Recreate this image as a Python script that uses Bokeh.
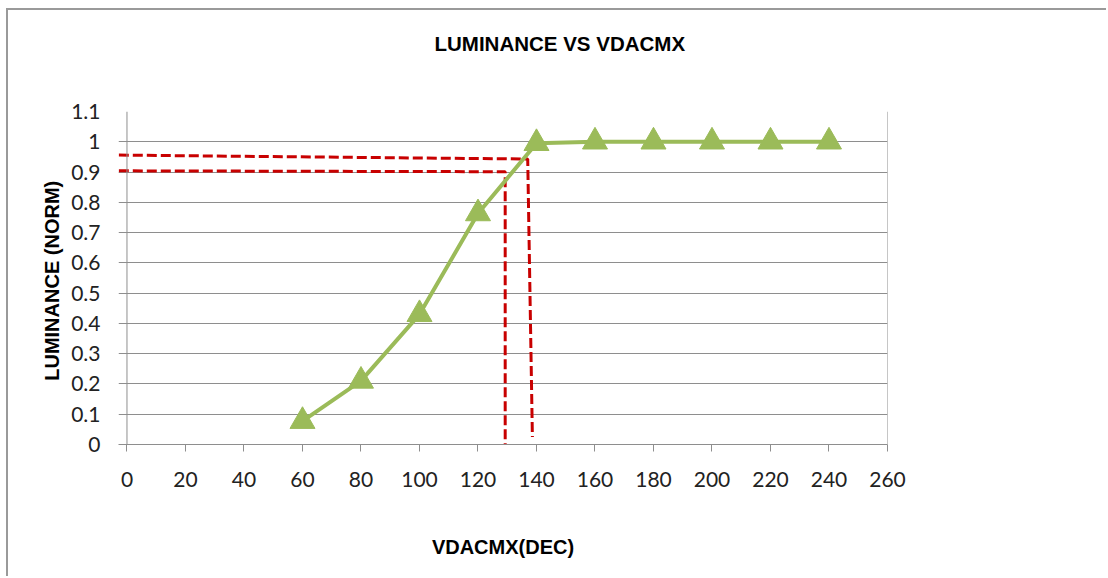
from bokeh.plotting import figure
from bokeh.models import Range1d, FixedTicker, NumeralTickFormatter, Span, Title
from bokeh.embed import file_html
from bokeh.resources import INLINE

# ---- data ----
vdac = [60, 80, 100, 120, 140, 160, 180, 200, 220, 240]
luminance = [0.077, 0.21, 0.43, 0.763, 0.995, 1.0, 1.0, 1.0, 1.0, 1.0]

x_ticks = [0, 20, 40, 60, 80, 100, 120, 140, 160, 180, 200, 220, 240, 260]
y_ticks = [0, 0.1, 0.2, 0.3, 0.4, 0.5, 0.6, 0.7, 0.8, 0.9, 1.0, 1.1]

# red dashed guide lines (hand drawn on the original)
guide_upper_x = [-2.8, 137.0, 138.6]
guide_upper_y = [0.956, 0.943, 0.025]
guide_lower_x = [-2.8, 129.3, 129.3]
guide_lower_y = [0.904, 0.901, 0.0]

title_text = "LUMINANCE  VS VDACMX"
x_label = "VDACMX(DEC)"
y_label = "LUMINANCE  (NORM)"

GRID = "#8E8E8E"
GREEN = "#9BBB59"
RED = "#C80000"

p = figure(
    width=1100, height=568,
    x_range=Range1d(-2.9, 260), y_range=Range1d(0, 1.1),
    output_backend="svg", toolbar_location=None,
    min_border_left=110, min_border_right=221,
    min_border_top=101, min_border_bottom=134,
)
p.styles = {
    "margin-left": "6px", "margin-top": "8px",
    "border-left": "2px solid #9A9A9A", "border-top": "2px solid #9A9A9A",
}
p.outline_line_color = None
p.background_fill_color = "white"
p.border_fill_color = "white"

# spacer between plot area and title, then the title itself
spacer = Title(text=" ", text_font_size="1px", standoff=54)
p.add_layout(spacer, "above")
chart_title = Title(
    text=title_text, align="left", offset=316, standoff=0,
    text_font="Liberation Sans", text_font_style="bold",
    text_font_size="20.5px", text_color="#000000",
)
p.add_layout(chart_title, "above")

# grid
p.xgrid.grid_line_color = None
p.ygrid.grid_line_color = GRID
p.ygrid.grid_line_width = 1
p.yaxis.ticker = FixedTicker(ticks=y_ticks)
p.xaxis.ticker = FixedTicker(ticks=x_ticks)

# x axis
xa = p.xaxis[0]
xa.axis_line_color = GRID
xa.major_tick_line_color = GRID
xa.major_tick_out = 7
xa.major_tick_in = 0
xa.minor_tick_line_color = None
xa.major_label_text_font = "Lato"
xa.major_label_text_font_size = "21px"
xa.major_label_text_color = "#222222"
xa.major_label_standoff = 20
xa.axis_label = x_label
xa.axis_label_text_font = "Liberation Sans"
xa.axis_label_text_font_style = "bold"
xa.axis_label_text_font_size = "20px"
xa.axis_label_text_color = "#000000"
xa.axis_label_standoff = 46

# y axis
ya = p.yaxis[0]
ya.formatter = NumeralTickFormatter(format="0.[0]")
ya.axis_line_color = None
ya.major_tick_line_color = None
ya.major_tick_out = 0
ya.major_tick_in = 0
ya.minor_tick_line_color = None
ya.major_label_text_font = "Lato"
ya.major_label_text_font_size = "21px"
ya.major_label_text_color = "#222222"
ya.major_label_standoff = 18
ya.axis_label = y_label
ya.axis_label_text_font = "Liberation Sans"
ya.axis_label_text_font_style = "bold"
ya.axis_label_text_font_size = "20px"
ya.axis_label_text_color = "#000000"
ya.axis_label_standoff = 5

# y-axis line at x=0 and right plot-area border
p.add_layout(Span(location=0, dimension="height", line_color=GRID, line_width=1))
p.add_layout(Span(location=260, dimension="height", line_color=GRID, line_width=1))

# red dashed guides
p.line(guide_upper_x, guide_upper_y, line_color=RED, line_width=3, line_dash="10 4")
p.line(guide_lower_x, guide_lower_y, line_color=RED, line_width=3, line_dash="10 4")

# data series
p.line(vdac, luminance, line_color=GREEN, line_width=4)
p.scatter(vdac, luminance, marker="triangle", size=25, fill_color=GREEN, line_color=GREEN)

open("out.html", "w").write(file_html(p, INLINE))
